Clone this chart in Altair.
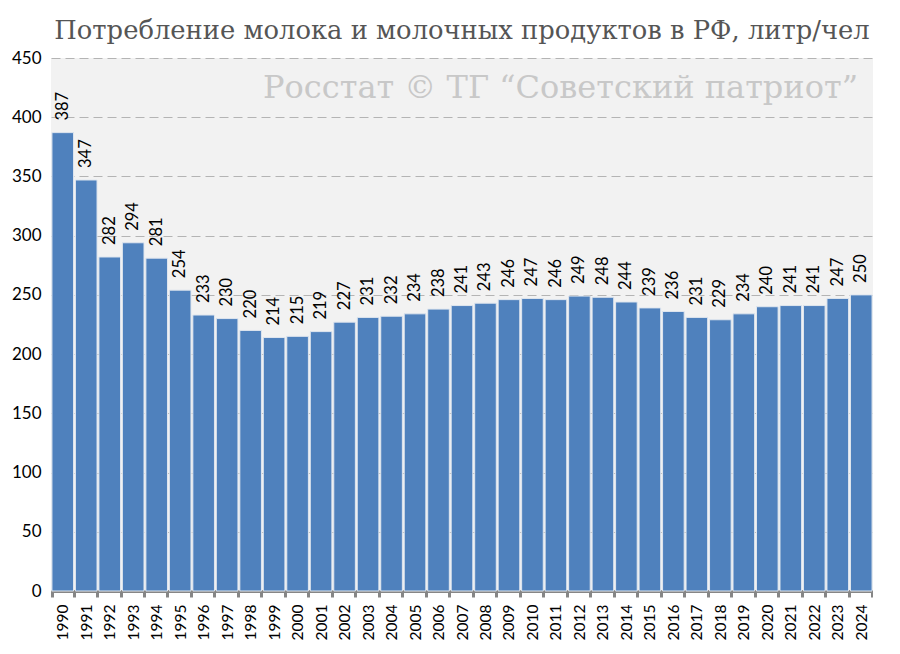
import altair as alt
import pandas as pd

years = [str(y) for y in range(1990, 2025)]
values = [387, 347, 282, 294, 281, 254, 233, 230, 220, 214,
          215, 219, 227, 231, 232, 234, 238, 241, 243, 246,
          247, 246, 249, 248, 244, 239, 236, 231, 229, 234,
          240, 241, 241, 247, 250]
y_ticks = list(range(0, 451, 50))

title = "Потребление молока и молочных продуктов в РФ, литр/чел"
watermark = "Росстат © ТГ “Советский патриот”"

df = pd.DataFrame({"year": years, "value": values})

x = alt.X("year:N", sort=years, title=None,
          scale=alt.Scale(paddingInner=0.08, paddingOuter=0.04),
          axis=alt.Axis(labelAngle=270, labelFontSize=15.5, labelColor="black",
                        labelFont="Lato", labelPadding=7, labelAlign="right",
                        labelBaseline="middle",
                        domainColor="#868686", domainWidth=3,
                        tickColor="#868686", tickWidth=3, tickSize=6,
                        tickBand="extent", grid=False))
y = alt.Y("value:Q", title=None,
          scale=alt.Scale(domain=[0, 450], nice=False),
          axis=alt.Axis(values=y_ticks, labelFontSize=17, labelColor="black",
                        labelFont="Lato", labelPadding=10, ticks=False, domain=False,
                        gridColor="#b4b4b4", gridDash=[9, 5], gridWidth=1.2))

bars = alt.Chart(df).mark_bar(color="#4f81bd", stroke="#dfe6ef", strokeWidth=1).encode(x=x, y=y)

labels = alt.Chart(df).mark_text(angle=270, align="left", baseline="middle",
                                 dx=12, fontSize=16.5, font="Lato", color="black").encode(
    x=alt.X("year:N", sort=years),
    y="value:Q",
    text="value:Q",
)

mark_wm = alt.Chart(pd.DataFrame({"t": [watermark]})).mark_text(
    align="right", baseline="alphabetic", font="DejaVu Serif", fontSize=32,
    color="#c8c8c8").encode(x=alt.value(807), y=alt.value(40), text="t:N")

chart = alt.layer(bars, labels, mark_wm).properties(
    width=822, height=533,
    title=alt.TitleParams(title, font="DejaVu Serif", fontSize=25.8, fontWeight="normal",
                          color="#555555", anchor="middle", offset=4),
    autosize=alt.AutoSizeParams(type="none"),
    padding={"left": 43, "top": 50, "right": 0, "bottom": 60},
).configure_view(fill="#f2f2f2", stroke=None)

chart.save("out.html", embed_options={"renderer": "svg", "actions": False})
